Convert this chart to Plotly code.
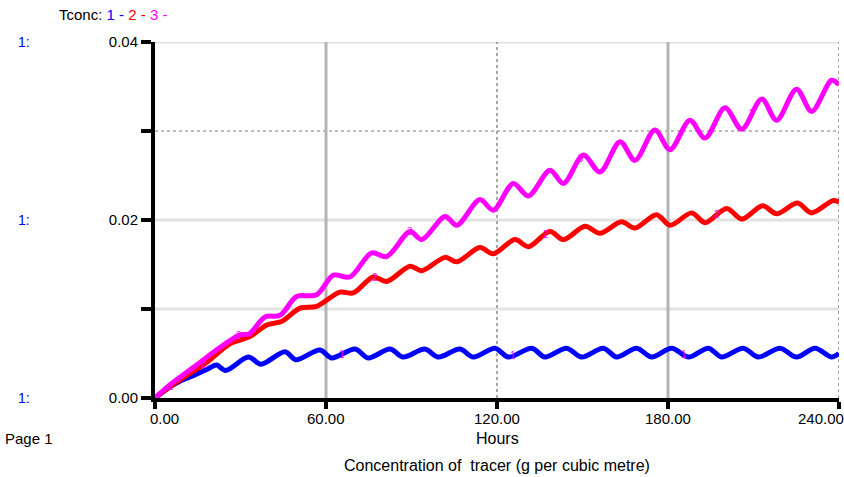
import numpy as np
import plotly.graph_objects as go

# ---------------- data ----------------
t1 = [0, 5, 9.4, 14, 18.7, 21.6, 24.8, 32.8, 37.2, 45.6, 49.4, 57.9, 62, 70.2, 74.8,
      82.5, 87.1, 94.7, 99.4, 107, 111.7, 119.3, 124, 132.2, 136.8, 144.4, 149.7,
      157.3, 162, 169, 174.3, 181.3, 187.1, 194.2, 198.8, 206.4, 211.7, 219.3, 225.1,
      231.6, 237.4, 240]
v1 = [0, 0.0012, 0.0020, 0.0026, 0.0033, 0.0037, 0.0031, 0.0046, 0.0038, 0.0052, 0.0043,
      0.0054, 0.0045, 0.0055, 0.0045, 0.0055, 0.0046, 0.0055, 0.0046, 0.0055, 0.0046,
      0.0056, 0.0046, 0.0056, 0.0046, 0.0056, 0.0046, 0.0056, 0.0046, 0.0056, 0.0046,
      0.0056, 0.0046, 0.0056, 0.0046, 0.0056, 0.0046, 0.0056, 0.0046, 0.0056, 0.0046,
      0.0050]

t2 = [0, 5.3, 10, 18.1, 26.3, 33.3, 39.2, 44.4, 50.9, 56.7, 64.9, 69.6, 76.6, 81.3,
      89.5, 93.6, 101.8, 105.9, 114, 118.7, 126.3, 131, 138.6, 143.3, 150.9, 156.1,
      163.7, 168.4, 176, 180.7, 188.3, 193, 200.6, 205.9, 213.2, 218.1, 225.4, 230.4,
      238, 240]
v2 = [0, 0.0013, 0.0023, 0.0040, 0.0061, 0.0069, 0.0082, 0.0086, 0.0101, 0.0103, 0.0119,
      0.0118, 0.0136, 0.0131, 0.0148, 0.0143, 0.0158, 0.0153, 0.0169, 0.0162, 0.0178,
      0.0170, 0.0187, 0.0178, 0.0193, 0.0185, 0.0198, 0.0191, 0.0206, 0.0194, 0.0208,
      0.0197, 0.0213, 0.0201, 0.0216, 0.0207, 0.0219, 0.0208, 0.0222, 0.0220]

t3 = [0, 5.3, 15.8, 22, 29.8, 33, 38.6, 43.9, 49.7, 56.7, 62.6, 68.4, 76, 81.3, 89.5,
      93.6, 101.8, 105.9, 114, 118.7, 125.7, 131, 138.6, 143.3, 150.3, 156.1, 163.2,
      168.4, 175.4, 180.7, 187.7, 193, 200, 205.9, 212.9, 218.1, 225.1, 230.4, 237.4, 240]
v3 = [0, 0.0015, 0.0040, 0.0055, 0.0071, 0.0072, 0.0091, 0.0093, 0.0114, 0.0116, 0.0138,
      0.0136, 0.0163, 0.0159, 0.0187, 0.0178, 0.0204, 0.0194, 0.0223, 0.0211, 0.0241,
      0.0227, 0.0256, 0.0241, 0.0273, 0.0254, 0.0288, 0.0267, 0.0301, 0.0279, 0.0312,
      0.0292, 0.0326, 0.0302, 0.0336, 0.0312, 0.0347, 0.0322, 0.0357, 0.0352]

series_names = ["1", "2", "3"]
series_colors = ["#0000ff", "#ff0000", "#ff00ff"]
label_times = [[5.5, 65.5, 125.5, 185.5],
               [17.2, 77.2, 137.2, 197.2],
               [29.5, 89.5, 149.5, 209.5]]

x_ticks = [0, 60, 120, 180, 240]
x_tick_text = ["0.00", "60.00", "120.00", "180.00", "240.00"]
y_ticks = [0, 0.01, 0.02, 0.03, 0.04]
y_tick_text = ["0.00", "", "0.02", "", "0.04"]
y_labelled = [0, 0.02, 0.04]

FONT = "Liberation Sans, Arial, sans-serif"

# grid line styles
SOLID_GREY = dict(color="#b4b4b4", width=3)
DOT_DARK = dict(color="#8a8a8a", width=1.5, dash="dot")
LIGHT = dict(color="#e2e2e2", width=3)
x_grid_styles = [SOLID_GREY, DOT_DARK, SOLID_GREY, DOT_DARK]
y_grid_styles = [LIGHT, LIGHT, dict(color="#a8a8a8", width=1.5, dash="dot"), LIGHT]

fig = go.Figure()

for yv, ln in zip(y_ticks[1:], y_grid_styles):
    fig.add_shape(type="line", xref="paper", yref="y", x0=0, x1=1, y0=yv, y1=yv,
                  line=ln, layer="below")
for xv, ln in zip(x_ticks[1:], x_grid_styles):
    fig.add_shape(type="line", xref="x", yref="paper", x0=xv, x1=xv, y0=0, y1=1,
                  line=ln, layer="below")

for t, v, c in zip([t1, t2, t3], [v1, v2, v3], series_colors):
    fig.add_trace(go.Scatter(x=t, y=v, mode="lines",
                             line=dict(color=c, width=5, shape="spline", smoothing=0.9),
                             showlegend=False, hoverinfo="skip"))

# small curve-number labels (magenta, as in the original)
for name, t, v, times in zip(series_names, [t1, t2, t3], [v1, v2, v3], label_times):
    for tt in times:
        fig.add_annotation(x=tt, y=float(np.interp(tt, t, v)), text=name, showarrow=False,
                           font=dict(family=FONT, size=10, color="#ff00ff"),
                           xref="x", yref="y")

# x tick labels
for i, (xv, txt) in enumerate(zip(x_ticks, x_tick_text)):
    shift = 0
    if i == 0:
        shift = 9
    elif i == len(x_ticks) - 1:
        shift = -18
    fig.add_annotation(x=xv, y=0, xref="x", yref="paper", text=txt, showarrow=False,
                       yanchor="top", xanchor="center", xshift=shift, yshift=-10,
                       font=dict(family=FONT, size=15, color="#000000"))

# "1:" labels on left
for yv in y_labelled:
    fig.add_annotation(x=-0.2035, y=yv, xref="paper", yref="y", text="1:", showarrow=False,
                       xanchor="left", yanchor="middle",
                       font=dict(family=FONT, size=14, color="#0000ff"))

fig.add_annotation(x=-0.1435, y=1.0, xref="paper", yref="paper", yanchor="bottom",
                   xanchor="left", yshift=17, showarrow=False,
                   text=("Tconc: <span style='color:#0000ff'>1</span> "
                         "<span style='color:#0000ff'>-</span> "
                         "<span style='color:#ff0000'>2 -</span> "
                         "<span style='color:#ff00ff'>3 -</span>"),
                   font=dict(family=FONT, size=15, color="#000000"))

fig.add_annotation(x=120, y=0, xref="x", yref="paper", text="Hours", showarrow=False,
                   yanchor="top", yshift=-30, font=dict(family=FONT, size=16, color="#000"))
fig.add_annotation(x=120, y=0, xref="x", yref="paper",
                   text="Concentration of&nbsp; tracer (g per cubic metre)", showarrow=False,
                   yanchor="top", yshift=-57, font=dict(family=FONT, size=16, color="#000"))
fig.add_annotation(x=-0.222, y=0, xref="paper", yref="paper", text="Page 1",
                   showarrow=False, xanchor="left", yanchor="top", yshift=-30,
                   font=dict(family=FONT, size=15, color="#000"))

fig.update_layout(
    width=844, height=477,
    margin=dict(l=155, r=5, t=42, b=79),
    paper_bgcolor="white", plot_bgcolor="white",
    font=dict(family=FONT, size=15, color="#000"),
    xaxis=dict(range=[0, 240], tickvals=x_ticks, showticklabels=False,
               ticks="outside", ticklen=7, tickwidth=4, tickcolor="#000",
               showline=True, linecolor="#000", linewidth=4, showgrid=False,
               zeroline=False, fixedrange=True),
    yaxis=dict(range=[0, 0.04], tickvals=y_ticks, ticktext=y_tick_text,
               ticks="outside", ticklen=10, tickwidth=4, tickcolor="#000",
               showline=True, linecolor="#000", linewidth=4, showgrid=False,
               zeroline=False, tickfont=dict(family=FONT, size=15), fixedrange=True),
)

fig.write_html("out.html")
